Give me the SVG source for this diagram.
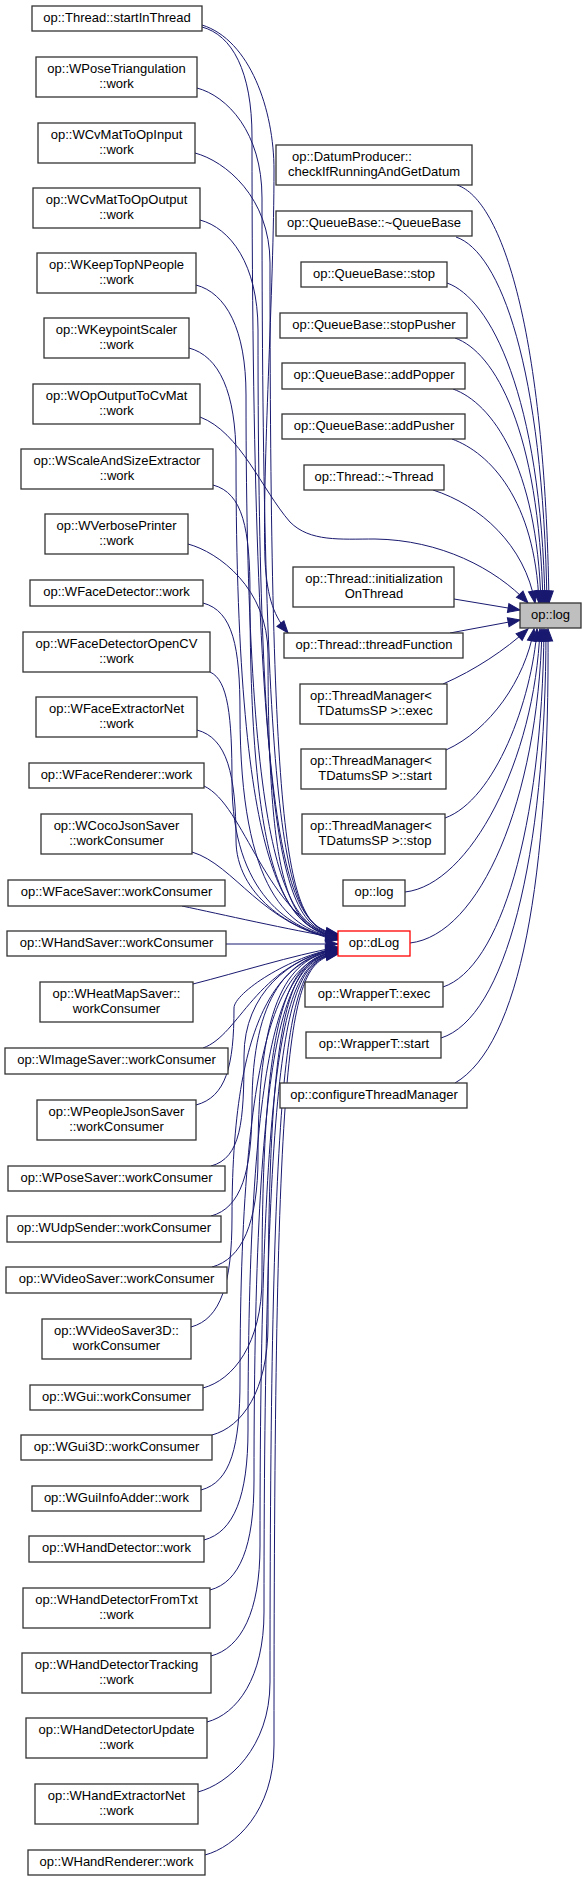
<svg xmlns="http://www.w3.org/2000/svg" width="587" height="1881" viewBox="0 0 587 1881">
<style>
.n rect{fill:#fff;stroke:#333;stroke-width:1.3}
.n text{font-family:"Liberation Sans",Arial,sans-serif;font-size:13px;text-anchor:middle;fill:#000}
.e path{fill:none;stroke:#191970;stroke-width:1;marker-end:url(#ah)}
</style>
<defs>
<marker id="ah" markerUnits="userSpaceOnUse" markerWidth="14" markerHeight="11" refX="12" refY="5" orient="auto" overflow="visible">
<path d="M0,0.5 L12,5 L0,9.5 z" fill="#191970" stroke="#191970" stroke-width="1"/>
</marker>
</defs>
<rect width="587" height="1881" fill="#fff"/>
<g id="edges" class="e">
<path d="M457,185 C502,200 545,331 549,603"/>
<path d="M456,237 C500,252 543,365 547,603"/>
<path d="M447,283 C490,298 541,395 545,603"/>
<path d="M455,338 C495,352 539,430 543,603"/>
<path d="M453,389 C492,403 537,465 541,603"/>
<path d="M452,439 C490,453 535,500 539,603"/>
<path d="M433,490 C480,505 525,545 535,603"/>
<path d="M200,417 C240,432 262,490 290,522 C310,542 340,539 375,539 C440,540 495,568 528,603"/>
<path d="M454,599 L520,610"/>
<path d="M450,633 L520,620"/>
<path d="M443,684 C475,670 505,650 528,629"/>
<path d="M446,750 C490,730 525,680 534,629"/>
<path d="M445,818 C495,800 532,700 537,629"/>
<path d="M405,892 C470,885 535,760 540,629"/>
<path d="M410,943 C480,935 538,800 542,629"/>
<path d="M443,987 C500,968 542,830 544,629"/>
<path d="M441,1038 C505,1018 546,860 546,629"/>
<path d="M455,1083 C520,1045 550,880 548,629"/>
<path d="M202,25 C250,40 274,110 274,170 C274,290 262,470 265,560 C267,600 275,617 288,633"/>
<path d="M202,27 C232,35 252,71 252,137 C252,889 290,926 338,934"/>
<path d="M197,88 C227,96 262,132 262,198 C262,889 290,927 338,934.5"/>
<path d="M195,153 C225,161 270,197 270,263 C270,890 290,927 338,935"/>
<path d="M200,220 C230,228 258,264 258,330 C258,890 290,928 338,935.5"/>
<path d="M196,285 C226,293 246,329 246,395 C246,891 290,928 338,936"/>
<path d="M189,348 C219,356 236,392 236,458 C236,891 290,929 338,936.5"/>
<path d="M213,485 C243,493 250,529 250,595 C250,892 290,929 338,937"/>
<path d="M188,544 C218,552 268,588 268,654 C268,892 290,930 338,937.5"/>
<path d="M203,603 C233,611 240,647 240,713 C240,893 290,930 338,938"/>
<path d="M210,672 C228,680 232,716 232,782 C232,893 290,931 338,938.5"/>
<path d="M197,730 C227,738 236,774 236,840 C236,894 290,931 338,939"/>
<path d="M204,786 C245,805 265,915 338,939.5"/>
<path d="M192,852 C235,865 262,925 338,940"/>
<path d="M182,906 C220,914 290,930 338,938"/>
<path d="M226,944 L338,944"/>
<path d="M193,984 C240,972 290,956 338,947"/>
<path d="M203,1048 C240,1035 255,965 338,948"/>
<path d="M196,1105 C226,1097 234,1066 234,1008 C234,993 290,956 338,948"/>
<path d="M211,1166 C241,1158 244,1122 244,1056 C244,993.5 290,956.5 338,948.5"/>
<path d="M211,1216 C241,1208 252,1172 252,1106 C252,994 290,957 338,949"/>
<path d="M212,1267 C242,1259 258,1223 258,1157 C258,994.5 290,957.5 338,949.5"/>
<path d="M191,1327 C221,1319 232,1283 232,1217 C232,995 290,958 338,950"/>
<path d="M203,1388 C233,1380 262,1344 262,1278 C262,995.5 290,958.5 338,950.5"/>
<path d="M212,1435 C242,1427 268,1391 268,1325 C268,996 290,959 338,951"/>
<path d="M201,1490 C231,1482 240,1446 240,1380 C240,996.5 290,959.5 338,951.5"/>
<path d="M204,1540 C234,1532 248,1496 248,1430 C248,997 290,960 338,952"/>
<path d="M210,1590 C240,1582 254,1546 254,1480 C254,997.5 290,960.5 338,952.5"/>
<path d="M211,1656 C241,1648 260,1612 260,1546 C260,998 290,961 338,953"/>
<path d="M207,1722 C237,1714 264,1678 264,1612 C264,998 290,961 338,953"/>
<path d="M198,1792 C228,1784 270,1748 270,1682 C270,998.5 290,961.5 338,953.5"/>
<path d="M205,1855 C235,1847 274,1811 274,1745 C274,999 290,962 338,954"/>
</g>
<g id="root" class="n"><rect x="520" y="603" width="61" height="25" style="fill:#bfbfbf"/><text x="550.5" y="619">op::log</text></g>
<g id="m1" class="n"><rect x="276" y="145" width="196" height="40"/><text x="352" y="161">op::DatumProducer::</text><text x="374" y="175.5">checkIfRunningAndGetDatum</text></g>
<g id="m2" class="n"><rect x="276" y="211" width="196" height="25"/><text x="374" y="227">op::QueueBase::~QueueBase</text></g>
<g id="m3" class="n"><rect x="301" y="262" width="146" height="25"/><text x="374" y="278">op::QueueBase::stop</text></g>
<g id="m4" class="n"><rect x="280" y="313" width="187" height="25"/><text x="374" y="329">op::QueueBase::stopPusher</text></g>
<g id="m5" class="n"><rect x="282" y="363" width="183" height="26"/><text x="374" y="379">op::QueueBase::addPopper</text></g>
<g id="m6" class="n"><rect x="282" y="414" width="183" height="25"/><text x="374" y="430">op::QueueBase::addPusher</text></g>
<g id="m7" class="n"><rect x="304" y="465" width="140" height="25"/><text x="374" y="481">op::Thread::~Thread</text></g>
<g id="m8" class="n"><rect x="293" y="567" width="161" height="40"/><text x="374" y="583">op::Thread::initialization</text><text x="374" y="597.5">OnThread</text></g>
<g id="m9" class="n"><rect x="284" y="633" width="179" height="25"/><text x="374" y="649">op::Thread::threadFunction</text></g>
<g id="m10" class="n"><rect x="300" y="684" width="147" height="40"/><text x="371" y="700">op::ThreadManager&lt;</text><text x="375" y="714.5">TDatumsSP &gt;::exec</text></g>
<g id="m11" class="n"><rect x="301" y="749" width="145" height="40"/><text x="371" y="765">op::ThreadManager&lt;</text><text x="375" y="779.5">TDatumsSP &gt;::start</text></g>
<g id="m12" class="n"><rect x="302" y="814" width="143" height="40"/><text x="371" y="830">op::ThreadManager&lt;</text><text x="375" y="844.5">TDatumsSP &gt;::stop</text></g>
<g id="m13" class="n"><rect x="343" y="880" width="62" height="26"/><text x="374" y="896">op::log</text></g>
<g id="m14" class="n"><rect x="338" y="931" width="72" height="25" style="stroke:#ff0000"/><text x="374" y="947">op::dLog</text></g>
<g id="m15" class="n"><rect x="305" y="982" width="138" height="25"/><text x="374" y="998">op::WrapperT::exec</text></g>
<g id="m16" class="n"><rect x="306" y="1032" width="135" height="26"/><text x="374" y="1048">op::WrapperT::start</text></g>
<g id="m17" class="n"><rect x="280" y="1083" width="187" height="25"/><text x="374" y="1099">op::configureThreadManager</text></g>
<g id="n1" class="n"><rect x="32" y="6" width="170" height="25"/><text x="117" y="22">op::Thread::startInThread</text></g>
<g id="n2" class="n"><rect x="36" y="57" width="161" height="40"/><text x="116.5" y="73">op::WPoseTriangulation</text><text x="116.5" y="87.5">::work</text></g>
<g id="n3" class="n"><rect x="38" y="123" width="157" height="40"/><text x="116.5" y="139">op::WCvMatToOpInput</text><text x="116.5" y="153.5">::work</text></g>
<g id="n4" class="n"><rect x="33" y="188" width="167" height="40"/><text x="116.5" y="204">op::WCvMatToOpOutput</text><text x="116.5" y="218.5">::work</text></g>
<g id="n5" class="n"><rect x="37" y="253" width="159" height="40"/><text x="116.5" y="269">op::WKeepTopNPeople</text><text x="116.5" y="283.5">::work</text></g>
<g id="n6" class="n"><rect x="44" y="318" width="145" height="40"/><text x="116.5" y="334">op::WKeypointScaler</text><text x="116.5" y="348.5">::work</text></g>
<g id="n7" class="n"><rect x="33" y="384" width="167" height="40"/><text x="116.5" y="400">op::WOpOutputToCvMat</text><text x="116.5" y="414.5">::work</text></g>
<g id="n8" class="n"><rect x="21" y="449" width="192" height="40"/><text x="117" y="465">op::WScaleAndSizeExtractor</text><text x="117" y="479.5">::work</text></g>
<g id="n9" class="n"><rect x="45" y="514" width="143" height="40"/><text x="116.5" y="530">op::WVerbosePrinter</text><text x="116.5" y="544.5">::work</text></g>
<g id="n10" class="n"><rect x="30" y="580" width="173" height="26"/><text x="116.5" y="596">op::WFaceDetector::work</text></g>
<g id="n11" class="n"><rect x="23" y="632" width="187" height="40"/><text x="116.5" y="648">op::WFaceDetectorOpenCV</text><text x="116.5" y="662.5">::work</text></g>
<g id="n12" class="n"><rect x="36" y="697" width="161" height="40"/><text x="116.5" y="713">op::WFaceExtractorNet</text><text x="116.5" y="727.5">::work</text></g>
<g id="n13" class="n"><rect x="29" y="763" width="175" height="25"/><text x="116.5" y="779">op::WFaceRenderer::work</text></g>
<g id="n14" class="n"><rect x="41" y="814" width="151" height="40"/><text x="116.5" y="830">op::WCocoJsonSaver</text><text x="116.5" y="844.5">::workConsumer</text></g>
<g id="n15" class="n"><rect x="8" y="880" width="217" height="26"/><text x="116.5" y="896">op::WFaceSaver::workConsumer</text></g>
<g id="n16" class="n"><rect x="7" y="931" width="219" height="25"/><text x="116.5" y="947">op::WHandSaver::workConsumer</text></g>
<g id="n17" class="n"><rect x="40" y="982" width="153" height="40"/><text x="116.5" y="998">op::WHeatMapSaver::</text><text x="116.5" y="1012.5">workConsumer</text></g>
<g id="n18" class="n"><rect x="5" y="1048" width="223" height="26"/><text x="116.5" y="1064">op::WImageSaver::workConsumer</text></g>
<g id="n19" class="n"><rect x="37" y="1100" width="159" height="40"/><text x="116.5" y="1116">op::WPeopleJsonSaver</text><text x="116.5" y="1130.5">::workConsumer</text></g>
<g id="n20" class="n"><rect x="8" y="1166" width="217" height="25"/><text x="116.5" y="1182">op::WPoseSaver::workConsumer</text></g>
<g id="n21" class="n"><rect x="7" y="1216" width="214" height="26"/><text x="114" y="1232">op::WUdpSender::workConsumer</text></g>
<g id="n22" class="n"><rect x="6" y="1267" width="221" height="26"/><text x="116.5" y="1283">op::WVideoSaver::workConsumer</text></g>
<g id="n23" class="n"><rect x="42" y="1319" width="149" height="40"/><text x="116.5" y="1335">op::WVideoSaver3D::</text><text x="116.5" y="1349.5">workConsumer</text></g>
<g id="n24" class="n"><rect x="30" y="1385" width="173" height="25"/><text x="116.5" y="1401">op::WGui::workConsumer</text></g>
<g id="n25" class="n"><rect x="21" y="1435" width="191" height="25"/><text x="116.5" y="1451">op::WGui3D::workConsumer</text></g>
<g id="n26" class="n"><rect x="32" y="1486" width="169" height="25"/><text x="116.5" y="1502">op::WGuiInfoAdder::work</text></g>
<g id="n27" class="n"><rect x="29" y="1536" width="175" height="26"/><text x="116.5" y="1552">op::WHandDetector::work</text></g>
<g id="n28" class="n"><rect x="23" y="1588" width="187" height="40"/><text x="116.5" y="1604">op::WHandDetectorFromTxt</text><text x="116.5" y="1618.5">::work</text></g>
<g id="n29" class="n"><rect x="22" y="1653" width="189" height="40"/><text x="116.5" y="1669">op::WHandDetectorTracking</text><text x="116.5" y="1683.5">::work</text></g>
<g id="n30" class="n"><rect x="26" y="1718" width="181" height="40"/><text x="116.5" y="1734">op::WHandDetectorUpdate</text><text x="116.5" y="1748.5">::work</text></g>
<g id="n31" class="n"><rect x="35" y="1784" width="163" height="40"/><text x="116.5" y="1800">op::WHandExtractorNet</text><text x="116.5" y="1814.5">::work</text></g>
<g id="n32" class="n"><rect x="28" y="1850" width="177" height="25"/><text x="116.5" y="1866">op::WHandRenderer::work</text></g>
</svg>
